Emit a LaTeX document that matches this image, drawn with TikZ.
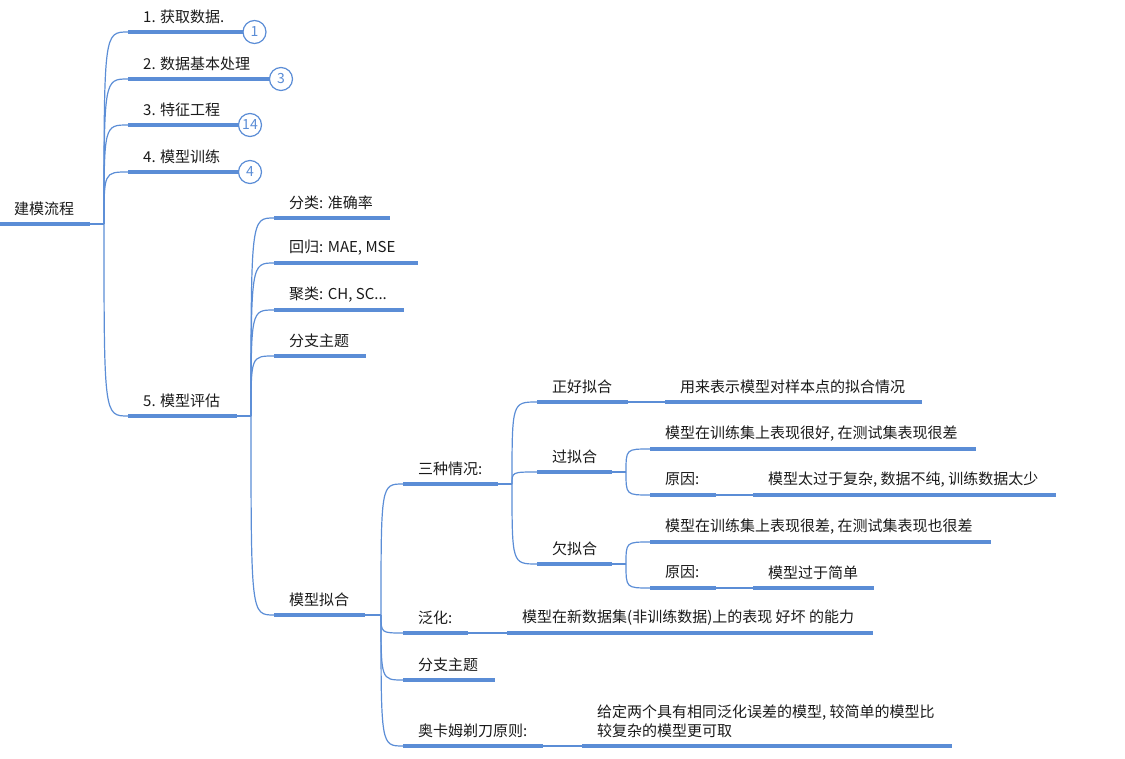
\documentclass[tikz,border=0pt]{standalone}
\usepackage{fontspec}
\setmainfont{Noto Sans CJK SC}
\usetikzlibrary{calc}
\definecolor{mblue}{HTML}{5B8DD6}
\definecolor{txtcol}{HTML}{1A1A1A}
\tikzset{
  under/.style={draw=mblue, line width=3.4pt},
  conn/.style={draw=mblue, line width=1.2pt},
  txt/.style={anchor=west, inner sep=0pt, text=txtcol, font=\fontsize{15}{19.5}\selectfont},
  badge/.style={circle, draw=mblue, line width=1.2pt, fill=white, minimum size=23pt, inner sep=0pt, text=mblue, font=\fontsize{14}{14}\selectfont},
}
% name, x0, x1, y, text
\newcommand\mmtopic[5]{%
  \coordinate (#1s) at (#2,#4);
  \coordinate (#1e) at (#3,#4);
  \draw[under] (#1s) -- (#1e);
  \node[txt] (#1) at ($(#1s)+(15,-15.5)$) {#5};
}
\newcommand\mmcurve[2]{\draw[conn] (#1) .. controls (#1 |- #2) .. (#2);}
\begin{document}
\begin{tikzpicture}[x=1pt,y=-1pt]
\useasboundingbox (0,0) rectangle (1125,759);

% root
\mmtopic{root}{0}{90}{224}{}
\node[txt] (rootT) at (14,208.5) {建模流程};
\coordinate (j0) at (104,224);
\draw[conn] (roote) -- (j0);

% level 1
\node[badge] (b1) at (254.5,32) {1};
\node[badge] (b2) at (281,79) {3};
\node[badge] (b3) at (250,125) {14};
\node[badge] (b4) at (250,172) {4};
\mmtopic{a1}{128}{243}{32}{1. 获取数据.}
\mmtopic{a2}{128}{269}{79}{2. 数据基本处理}
\mmtopic{a3}{128}{238}{125}{3. 特征工程}
\mmtopic{a4}{128}{238}{172}{4. 模型训练}
\mmtopic{a5}{128}{237}{416}{5. 模型评估}
\foreach \i in {1,2,3,4}{\draw[conn] (a\i e) -- (b\i.west);}
\foreach \i in {1,...,5}{\mmcurve{j0}{a\i s}}

% level 2
\coordinate (j5) at (251,416);
\draw[conn] (a5e) -- (j5);
\mmtopic{c1}{274}{390}{218}{分类: 准确率}
\mmtopic{c2}{274}{418}{263}{回归: MAE, MSE}
\mmtopic{c3}{274}{404}{310}{聚类: CH, SC...}
\mmtopic{c4}{274}{366}{356}{分支主题}
\mmtopic{c5}{274}{365}{615}{模型拟合}
\foreach \i in {1,...,5}{\mmcurve{j5}{c\i s}}

% level 3
\coordinate (jf) at (381,615);
\draw[conn] (c5e) -- (jf);
\mmtopic{d1}{403}{498}{484}{三种情况:}
\mmtopic{d2}{403}{468}{633}{泛化:}
\mmtopic{d3}{403}{495}{680}{分支主题}
\mmtopic{d4}{403}{543}{746}{奥卡姆剃刀原则:}
\foreach \i in {1,...,4}{\mmcurve{jf}{d\i s}}

\mmtopic{d2b}{507}{873}{633}{模型在新数据集(非训练数据)上的表现 好坏 的能力}
\draw[conn] (d2e) -- (d2bs);

\coordinate (d4bs) at (582,746);
\coordinate (d4be) at (952,746);
\draw[under] (d4bs) -- (d4be);
\node[txt, align=left] (d4b) at ($(d4bs)+(15,-24.5)$) {给定两个具有相同泛化误差的模型, 较简单的模型比\\较复杂的模型更可取};
\draw[conn] (d4e) -- (d4bs);

% level 4
\coordinate (js) at (512,484);
\draw[conn] (d1e) -- (js);
\mmtopic{e1}{537}{628}{402}{正好拟合}
\mmtopic{e2}{537}{612}{472}{过拟合}
\mmtopic{e3}{537}{612}{564}{欠拟合}
\foreach \i in {1,2,3}{\mmcurve{js}{e\i s}}

\mmtopic{e1b}{665}{922}{402}{用来表示模型对样本点的拟合情况}
\draw[conn] (e1e) -- (e1bs);

% 过拟合 children
\coordinate (jg) at (626,472);
\draw[conn] (e2e) -- (jg);
\mmtopic{g1}{650}{976}{449}{模型在训练集上表现很好, 在测试集表现很差}
\mmtopic{g2}{650}{716}{495}{原因:}
\mmtopic{g2b}{753}{1056}{495}{模型太过于复杂, 数据不纯, 训练数据太少}
\draw[conn] (g2e) -- (g2bs);
\mmcurve{jg}{g1s}
\mmcurve{jg}{g2s}

% 欠拟合 children
\coordinate (jh) at (626,564);
\draw[conn] (e3e) -- (jh);
\mmtopic{h1}{650}{991}{542}{模型在训练集上表现很差, 在测试集表现也很差}
\mmtopic{h2}{650}{716}{588}{原因:}
\mmtopic{h2b}{753}{874}{588}{模型过于简单}
\draw[conn] (h2e) -- (h2bs);
\mmcurve{jh}{h1s}
\mmcurve{jh}{h2s}
\end{tikzpicture}
\end{document}
